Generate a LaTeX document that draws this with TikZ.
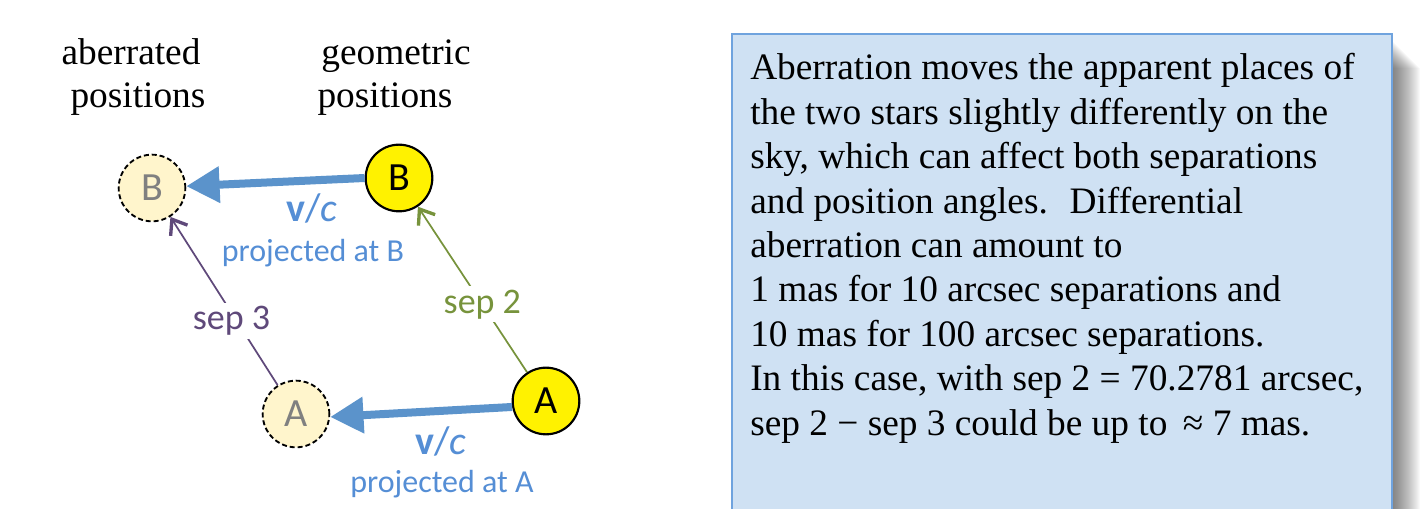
\documentclass[tikz,border=0pt]{standalone}
\usepackage{fontspec}
\setmainfont{Liberation Serif}
\newfontfamily\calibri{Carlito}
\usetikzlibrary{arrows.meta}
\definecolor{arrblue}{HTML}{5B93CB}
\definecolor{txtblue}{HTML}{558ED5}
\definecolor{sepgreen}{HTML}{77933C}
\definecolor{seppurple}{HTML}{5F497A}
\definecolor{paleyellow}{HTML}{FFF5CC}
\definecolor{boxfill}{HTML}{CFE1F3}
\definecolor{boxline}{HTML}{6FA3DE}
\begin{document}
\begin{tikzpicture}[x=0.75pt,y=-0.75pt,
  geo/.style={circle, draw=black, line width=1.6pt, fill=yellow, minimum size=50pt, inner sep=0pt,
    font=\calibri\fontsize{30}{32}\selectfont},
  abe/.style={circle, draw=black, line width=1.4pt, dash pattern=on 3.75pt off 2.2pt, fill=paleyellow,
    minimum size=50pt, inner sep=0pt, text=gray, font=\calibri\fontsize{30}{32}\selectfont},
  vel/.style={draw=arrblue, line width=6pt, -{Triangle[length=25pt,width=26pt]}},
  sepline/.style={line width=1.3pt, -{Straight Barb[length=10pt,width=15pt,line width=2.5pt]}},
  seplab/.style={fill=white, inner sep=2.5pt, font=\calibri\fontsize{27}{30}\selectfont},
  vclab/.style={anchor=base, inner sep=0pt, text=txtblue, font=\calibri\fontsize{30}{32}\selectfont},
  projlab/.style={anchor=base, inner sep=0pt, text=txtblue, font=\calibri\fontsize{24}{28}\selectfont},
  toplab/.style={anchor=base, inner sep=0pt, font=\fontsize{28}{33}\selectfont},
  boxtext/.style={anchor=base west, inner sep=0pt, font=\fontsize{28}{33}\selectfont}
]
\useasboundingbox (0,0) rectangle (1425,509);
\clip (0,0) rectangle (1425,509);

% top labels
\node[toplab] (ab1) at (131,65) {aberrated};
\node[toplab] (ab2) at (138,108) {positions};
\node[toplab] (ge1) at (396,65) {geometric};
\node[toplab] (ge2) at (385,108) {positions};

% stars
\node[abe] (dB) at (152,188) {B};
\node[geo] (yB) at (399,178) {B};
\node[abe] (dA) at (296,414) {A};
\node[geo] (yA) at (546,401) {A};

% aberration vectors
\draw[vel] (yB.west) -- (dB.3);
\draw[vel] (yA.190) -- (dA.355);

\node[vclab] (vcB) at (312,222) {\textbf{v}/\textit{c}};
\node[projlab] (prB) at (313,262) {projected at B};
\node[vclab] (vcA) at (441,455) {\textbf{v}/\textit{c}};
\node[projlab] (prA) at (442,493) {projected at A};

% separations
\draw[sepline, draw=sepgreen] (yA) -- node[seplab, text=sepgreen, pos=0.41] (s2) {sep 2} (yB);
\draw[sepline, draw=seppurple] (dA) -- node[seplab, text=seppurple, pos=0.38, xshift=-4pt] (s3) {sep 3} (dB);

% shadow of the text box
\foreach \k in {1,...,28}
  \fill[black, opacity=0.024] (1380,40+\k) rectangle (1392+\k,530);
% text box
\draw[draw=boxline, line width=1.5pt, fill=boxfill] (732,34) rectangle (1392,530);
\foreach \t [count=\i from 0] in {Aberration moves the apparent places of,
  the two stars slightly differently on the,
  {sky, which can affect both separations},
  and position angles.~ Differential,
  aberration can amount to,
  1 mas for 10 arcsec separations and,
  10 mas for 100 arcsec separations.,
  {In this case, with sep 2 = 70.2781 arcsec,},
  sep 2 − sep 3 could be up to~\,≈ 7 mas.}
  \node[boxtext] (line\i) at (750,80+44.4*\i) {\t};
\end{tikzpicture}
\end{document}
